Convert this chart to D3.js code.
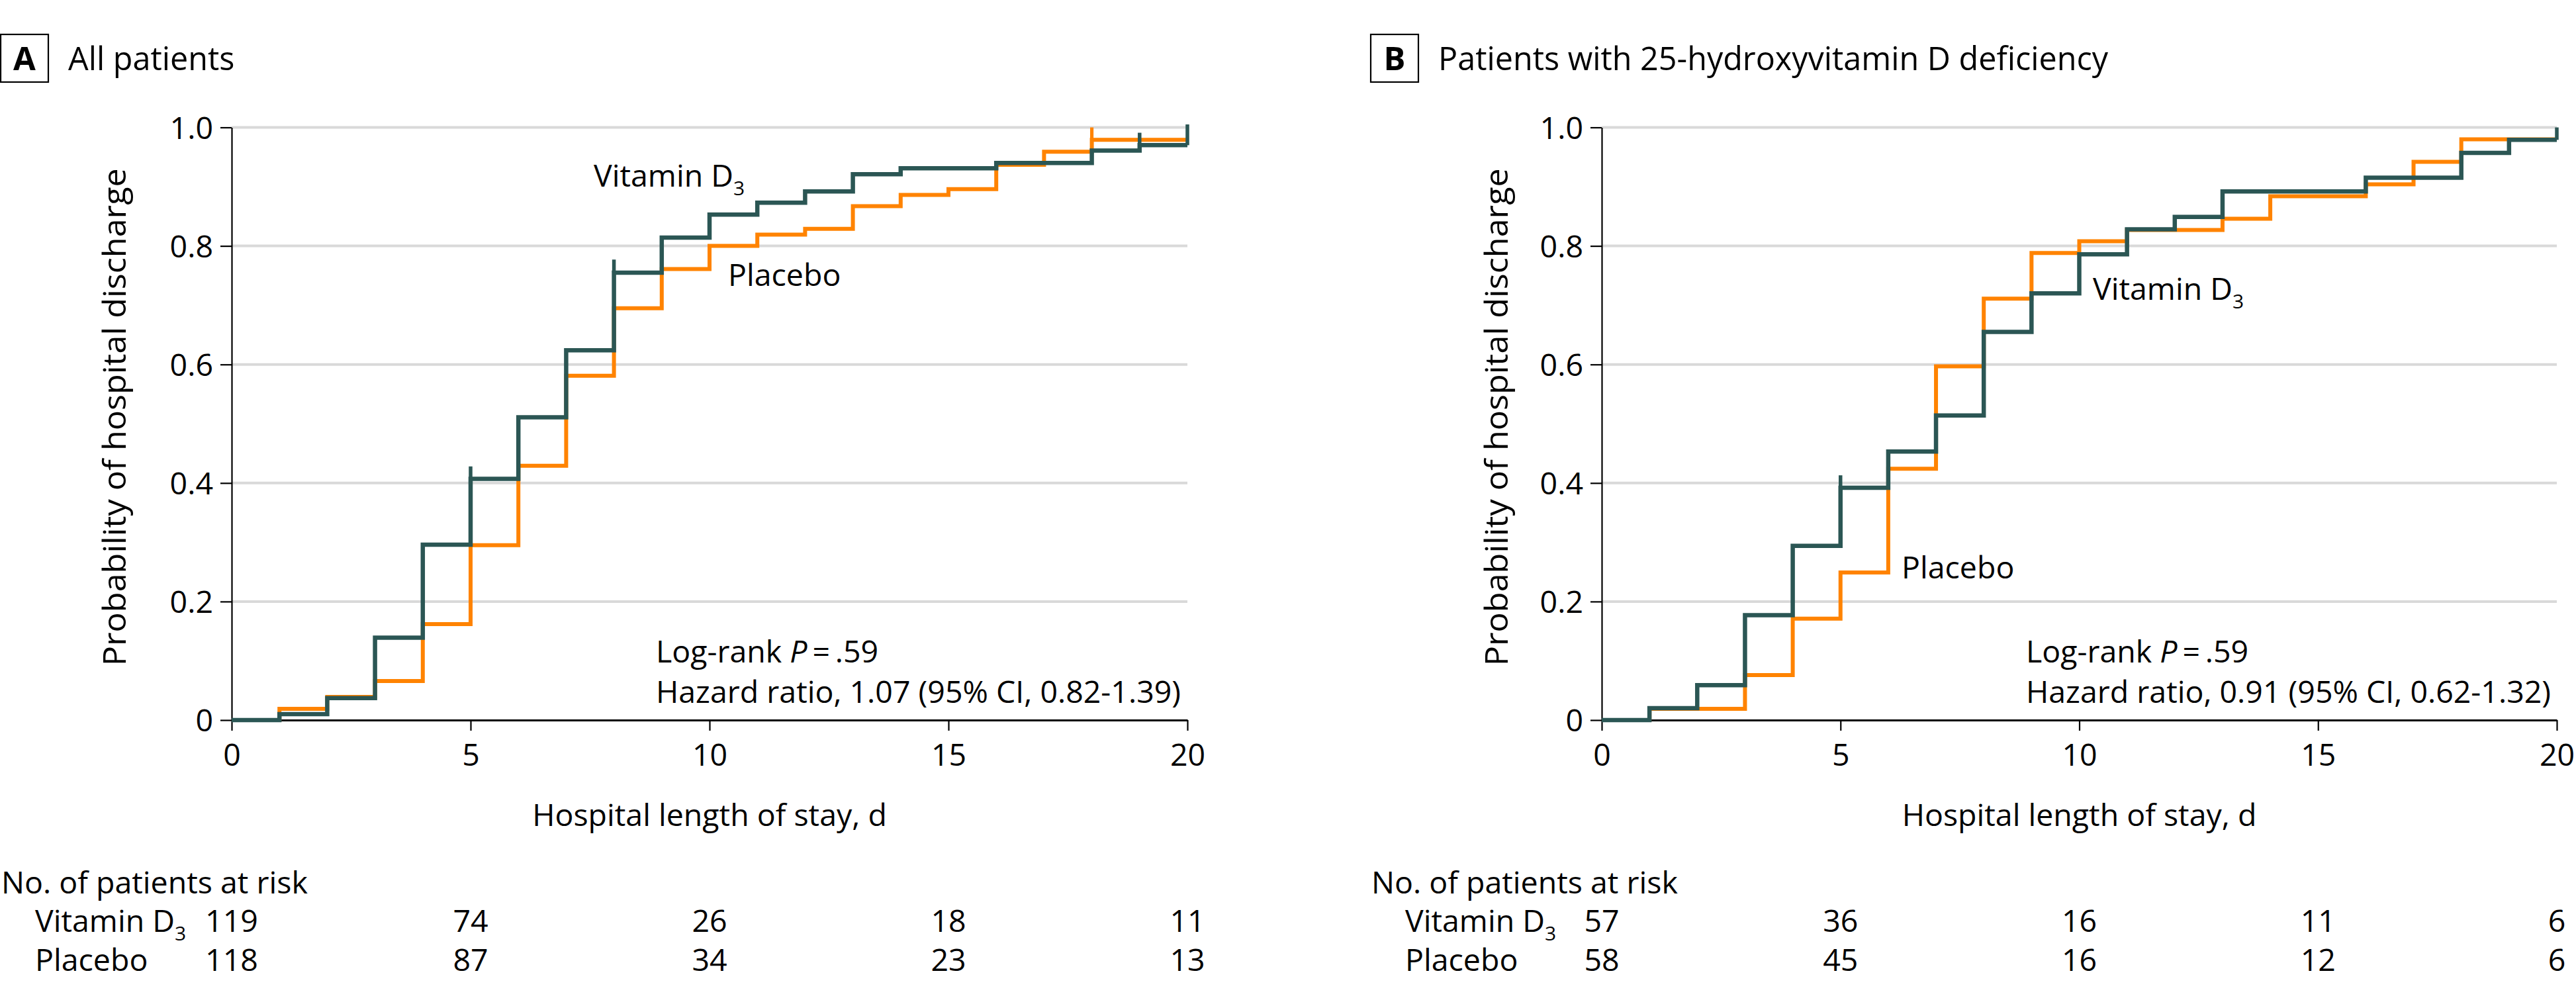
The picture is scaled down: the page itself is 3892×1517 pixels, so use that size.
<!DOCTYPE html>
<html>
<head>
<meta charset="utf-8">
<script src="https://cdn.jsdelivr.net/npm/d3@7"></script>
<style>
  html, body { margin: 0; padding: 0; background: #ffffff; }
  svg { display: block; }
  text { font-family: "Open Sans", "Noto Sans", sans-serif; fill: #000; }
</style>
</head>
<body>
<svg id="chart" width="3892" height="1517"></svg>
<script>
// ---------------- DATA ----------------
const stepDays = [0,1,2,3,4,5,6,7,8,9,10,11,12,13,14,15,16,17,18,19];
const endDay = 20;

// Panel A: All patients (cumulative probability of discharge, value on [day, day+1))
const allVitD    = [0,0.010,0.037,0.139,0.296,0.407,0.511,0.624,0.755,0.814,0.853,0.873,0.892,0.921,0.931,0.931,0.940,0.940,0.961,0.970];
const allPlacebo = [0,0.019,0.039,0.066,0.162,0.295,0.429,0.581,0.695,0.761,0.800,0.819,0.829,0.867,0.886,0.896,0.937,0.959,0.979,0.979];
// censor marks: day and top of the tick
const allVitDCensorDays = [5, 8, 19, 20];
const allVitDCensorTops = [0.428, 0.777, 0.991, 1.005];
const allPlaceboCensorDays = [18];
const allPlaceboCensorTops = [1.0];

// Panel B: Patients with 25-hydroxyvitamin D deficiency
const defVitD    = [0,0.020,0.059,0.177,0.294,0.392,0.453,0.514,0.655,0.720,0.786,0.828,0.849,0.892,0.892,0.892,0.915,0.915,0.957,0.979];
const defPlacebo = [0,0.019,0.019,0.076,0.171,0.249,0.424,0.597,0.711,0.788,0.808,0.827,0.827,0.846,0.884,0.884,0.904,0.942,0.980,0.980];
const defVitDCensorDays = [5, 20];
const defVitDCensorTops = [0.413, 1.0];
const defPlaceboCensorDays = [];
const defPlaceboCensorTops = [];

// Axis ticks
const xTicks = [0, 5, 10, 15, 20];
const yTicks = [0, 0.2, 0.4, 0.6, 0.8, 1.0];

// Number at risk
const riskDays = [0, 5, 10, 15, 20];
const allRiskVitD    = [119, 74, 26, 18, 11];
const allRiskPlacebo = [118, 87, 34, 23, 13];
const defRiskVitD    = [57, 36, 16, 11, 6];
const defRiskPlacebo = [58, 45, 16, 12, 6];

// Texts
const panelLetters = ["A", "B"];
const panelTitles = ["All patients", "Patients with 25-hydroxyvitamin D deficiency"];
const hazardTexts = ["Hazard ratio, 1.07 (95% CI, 0.82-1.39)", "Hazard ratio, 0.91 (95% CI, 0.62-1.32)"];
const pValueText = ".59";
const xLabel = "Hospital length of stay, d";
const yLabel = "Probability of hospital discharge";
const riskHeader = "No. of patients at risk";

// ---------------- STYLE / LAYOUT ----------------
const COL_VIT = "#2b5654";
const COL_PLA = "#ff8300";
const GRID = "#d9d9d9";
const FS = 46.5;
const FS_SUB = 30;

const panels = [
  {
    letter: panelLetters[0], title: panelTitles[0], hazard: hazardTexts[0],
    vit: allVitD, pla: allPlacebo,
    vitC: [allVitDCensorDays, allVitDCensorTops], plaC: [allPlaceboCensorDays, allPlaceboCensorTops],
    riskVit: allRiskVitD, riskPla: allRiskPlacebo,
    x0: 350, x1: 1794, yLabelX: 190,
    vitLabel: [897, 282], plaLabel: [1100, 432]
  },
  {
    letter: panelLetters[1], title: panelTitles[1], hazard: hazardTexts[1],
    vit: defVitD, pla: defPlacebo,
    vitC: [defVitDCensorDays, defVitDCensorTops], plaC: [defPlaceboCensorDays, defPlaceboCensorTops],
    riskVit: defRiskVitD, riskPla: defRiskPlacebo,
    x0: 2420, x1: 3863, yLabelX: 2278,
    vitLabel: [3162, 453], plaLabel: [2873, 874]
  }
];

const yTop = 192.5, yBot = 1088;
const svg = d3.select("#chart");
svg.append("rect").attr("width", 3892).attr("height", 1517).attr("fill", "#fff");

panels.forEach(p => {
  const g = svg.append("g");
  const x = d3.scaleLinear().domain([0, 20]).range([p.x0, p.x1]);
  const y = d3.scaleLinear().domain([0, 1]).range([yBot, yTop]);
  const left = p.x0 - 350;

  // Panel letter box + title
  g.append("rect").attr("x", left + 1).attr("y", 52).attr("width", 72).attr("height", 72)
    .attr("fill", "none").attr("stroke", "#000").attr("stroke-width", 2.2);
  g.append("text").attr("x", left + 37).attr("y", 106).attr("text-anchor", "middle")
    .attr("font-size", 49).attr("font-weight", 700).text(p.letter);
  g.append("text").attr("x", left + 103).attr("y", 106)
    .attr("font-size", 48.5).text(p.title);

  // Grid lines
  g.append("g").selectAll("line").data(yTicks.filter(d => d > 0)).join("line")
    .attr("x1", p.x0).attr("x2", p.x1)
    .attr("y1", d => y(d)).attr("y2", d => y(d))
    .attr("stroke", GRID).attr("stroke-width", 4);

  // Y axis
  const yAxis = d3.axisLeft(y).tickValues(yTicks)
    .tickFormat(d => d === 0 ? "0" : d3.format(".1f")(d))
    .tickSize(17).tickSizeOuter(0).tickPadding(11);
  const ya = g.append("g").attr("transform", `translate(${p.x0},0)`).call(yAxis);
  ya.select(".domain").attr("stroke", "#000").attr("stroke-width", 2.2);
  ya.selectAll(".tick line").attr("stroke", "#000").attr("stroke-width", 2.2);
  ya.selectAll(".tick text").attr("font-size", FS).attr("font-family", '"Open Sans", sans-serif')
    .attr("dy", "0.36em").attr("fill", "#000");

  // X axis
  const xAxis = d3.axisBottom(x).tickValues(xTicks).tickFormat(d3.format("d"))
    .tickSize(16).tickSizeOuter(0).tickPadding(20);
  const xa = g.append("g").attr("transform", `translate(0,${yBot})`).call(xAxis);
  xa.select(".domain").attr("stroke", "#000").attr("stroke-width", 3);
  xa.selectAll(".tick line").attr("stroke", "#000").attr("stroke-width", 2.2);
  xa.selectAll(".tick text").attr("font-size", FS).attr("font-family", '"Open Sans", sans-serif')
    .attr("fill", "#000");

  // Axis labels
  g.append("text").attr("x", (p.x0 + p.x1) / 2).attr("y", 1248).attr("text-anchor", "middle")
    .attr("font-size", FS).text(xLabel);
  g.append("text")
    .attr("transform", `translate(${p.yLabelX},${(yTop + yBot) / 2 - 10}) rotate(-90)`)
    .attr("text-anchor", "middle")
    .attr("font-family", '"DejaVu Sans", sans-serif')
    .attr("font-size", 48)
    .attr("textLength", 752).attr("lengthAdjust", "spacingAndGlyphs")
    .text(yLabel);

  // Step curves
  const line = d3.line().x(d => x(d[0])).y(d => y(d[1])).curve(d3.curveStepAfter);
  const pts = vals => stepDays.map((dd, i) => [dd, vals[i]]).concat([[endDay, vals[vals.length - 1]]]);
  const valAt = (vals, day) => vals[Math.min(day, vals.length - 1)];

  const drawSeries = (vals, cens, color, w) => {
    g.append("path").datum(pts(vals)).attr("d", line)
      .attr("fill", "none").attr("stroke", color).attr("stroke-width", w)
      .attr("stroke-linejoin", "miter").attr("stroke-linecap", "butt");
    const [cd, ct] = cens;
    g.append("g").selectAll("line").data(cd.map((dd, i) => [dd, ct[i]])).join("line")
      .attr("x1", d => x(d[0])).attr("x2", d => x(d[0]))
      .attr("y1", d => y(valAt(vals, d[0])))
      .attr("y2", d => y(d[1]))
      .attr("stroke", color).attr("stroke-width", w * 0.85);
  };
  drawSeries(p.pla, p.plaC, COL_PLA, 6);
  drawSeries(p.vit, p.vitC, COL_VIT, 6.5);

  // Series labels
  const vl = g.append("text").attr("x", p.vitLabel[0]).attr("y", p.vitLabel[1]).attr("font-size", FS);
  vl.append("tspan").text("Vitamin D");
  vl.append("tspan").attr("font-size", FS_SUB).attr("dy", 13).text("3");
  g.append("text").attr("x", p.plaLabel[0]).attr("y", p.plaLabel[1]).attr("font-size", FS).text("Placebo");

  // Stats text
  const st = g.append("text").attr("x", p.x0 + 641).attr("y", 1001).attr("font-size", FS);
  st.append("tspan").text("Log-rank ");
  st.append("tspan").attr("font-style", "italic").text("P");
  st.append("tspan").text("\u2009=\u2009" + pValueText);
  g.append("text").attr("x", p.x0 + 641).attr("y", 1062).attr("font-size", FS).text(p.hazard);

  // Risk table
  g.append("text").attr("x", left + 2).attr("y", 1350).attr("font-size", FS).text(riskHeader);
  const r1 = g.append("text").attr("x", left + 53).attr("y", 1408).attr("font-size", FS);
  r1.append("tspan").text("Vitamin D");
  r1.append("tspan").attr("font-size", FS_SUB).attr("dy", 13).text("3");
  g.append("text").attr("x", left + 53).attr("y", 1467).attr("font-size", FS).text("Placebo");
  g.append("g").selectAll("text").data(riskDays.map((dd, i) => [dd, p.riskVit[i]])).join("text")
    .attr("x", d => x(d[0])).attr("y", 1408).attr("text-anchor", "middle").attr("font-size", FS)
    .text(d => d[1]);
  g.append("g").selectAll("text").data(riskDays.map((dd, i) => [dd, p.riskPla[i]])).join("text")
    .attr("x", d => x(d[0])).attr("y", 1467).attr("text-anchor", "middle").attr("font-size", FS)
    .text(d => d[1]);
});
</script>
</body>
</html>
